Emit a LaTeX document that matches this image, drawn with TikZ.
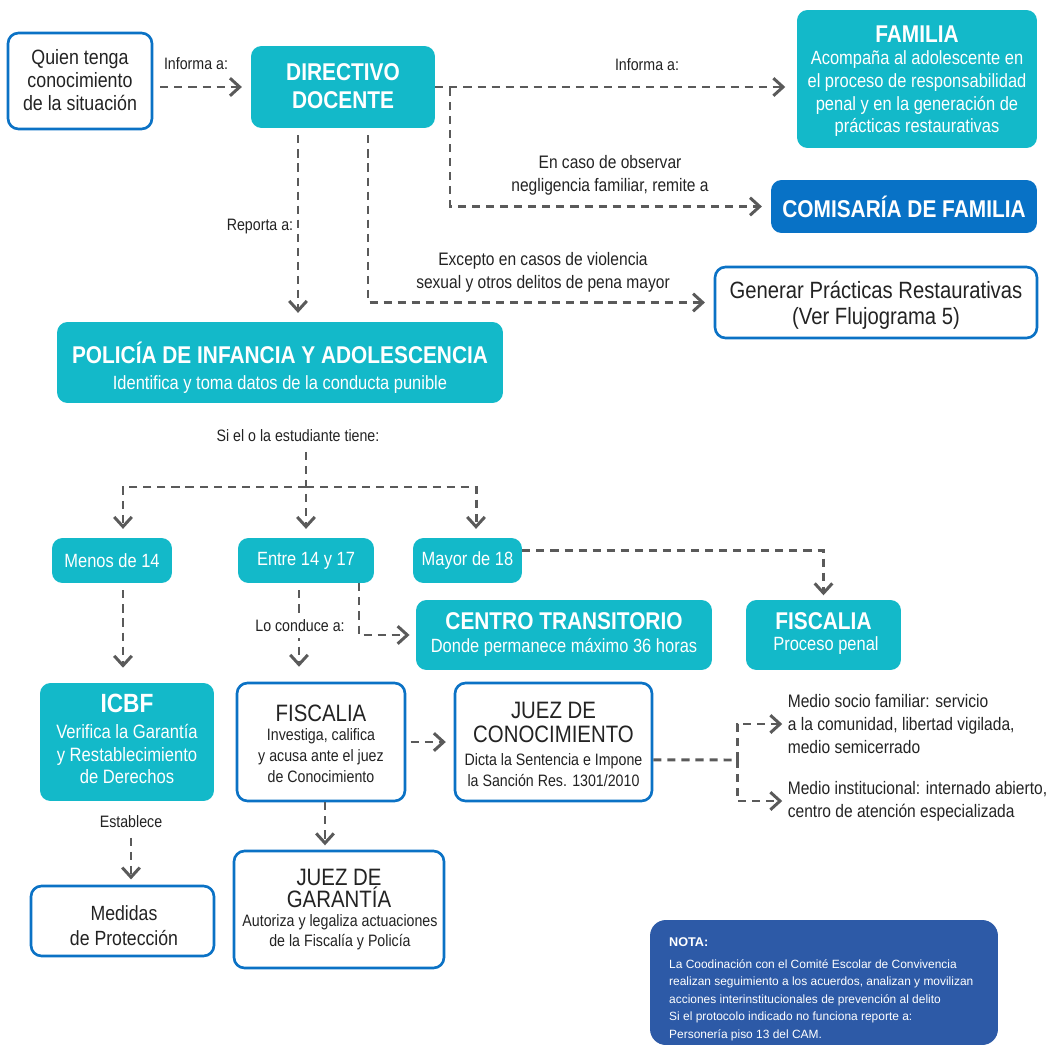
\documentclass[tikz,border=0pt]{standalone}
\usepackage{fontspec}
\setmainfont{Liberation Sans}[FakeStretch=0.86]
\newfontfamily\notafont{Liberation Sans}
\usetikzlibrary{arrows.meta, positioning, calc}
\usepackage{xcolor}

\definecolor{tealbox}{RGB}{19,185,201}
\definecolor{bluebord}{RGB}{11,114,197}
\definecolor{comblue}{RGB}{8,114,198}
\definecolor{notablue}{RGB}{45,90,167}
\definecolor{arrgray}{RGB}{90,90,90}
\definecolor{txtgray}{RGB}{35,35,35}

\begin{document}
\begin{tikzpicture}[x=0.02cm, y=-0.02cm,
    tbox/.style={rectangle, rounded corners=6pt, fill=tealbox, inner sep=0pt},
    obox/.style={draw=bluebord, line width=1.5pt, rectangle, rounded corners=6pt, fill=white, inner sep=0pt},
    ttl/.style={text=white, align=center, font=\bfseries\fontsize{13.8}{16}\selectfont},
    wsub/.style={text=white, align=center, font=\fontsize{10.9}{12.9}\selectfont},
    dtxt/.style={text=txtgray, align=center},
    lbl/.style={text=txtgray, align=center, font=\fontsize{9.4}{11}\selectfont},
    arr/.style={draw=arrgray, line width=1.7pt, dash pattern=on 4.6pt off 3.4pt, shorten <=4pt, shorten >=5pt, -{Straight Barb[length=5.5pt, width=10pt]}},
    dline/.style={draw=arrgray, line width=1.7pt, dash pattern=on 4.6pt off 3.4pt}
]
    \useasboundingbox (0,0) rectangle (1051,1047);

    % Box for Quien tenga
    \node[obox, minimum width=2.88cm, minimum height=1.92cm] (quien) at (80,81) {};
    \node[dtxt, font=\fontsize{11.8}{13.1}\selectfont] (quienT) at (80,80) {Quien tenga\\conocimiento\\de la situación};

    % Box for Directivo docente
    \node[tbox, minimum width=3.68cm, minimum height=1.64cm] (dir) at (343,87) {};
    \node[ttl] (dirT) at (343,86) {DIRECTIVO\\DOCENTE};

    % Box for Familia
    \node[tbox, minimum width=4.8cm, minimum height=2.76cm] (fam) at (917,79) {};
    \node[ttl] (famT) at (917,34) {FAMILIA};
    \node[wsub] (famS) at (917,94) {Acompaña al adolescente en\\el proceso de responsabilidad\\penal y en la generación de\\prácticas restaurativas};

    % Box for Comisaria
    \node[tbox, fill=comblue, minimum width=5.32cm, minimum height=1.06cm] (com) at (904,206.5) {};
    \node[ttl] (comT) at (904,207) {COMISARÍA DE FAMILIA};

    % Box for Practicas restaurativas
    \node[obox, minimum width=6.44cm, minimum height=1.42cm] (gen) at (876,302.5) {};
    \node[dtxt, font=\fontsize{13.4}{14.8}\selectfont] (genT) at (876,305) {Generar Prácticas Restaurativas\\(Ver Flujograma 5)};

    % Box for Policia
    \node[tbox, minimum width=8.92cm, minimum height=1.62cm] (pol) at (280,362.5) {};
    \node[ttl] (polT) at (280,353) {POLICÍA DE INFANCIA Y ADOLESCENCIA};
    \node[wsub] (polS) at (280,385) {Identifica y toma datos de la conducta punible};

    % Labels top
    \node[lbl] (infA) at (196,64) {Informa a:};
    \node[lbl] (infB) at (647,65) {Informa a:};
    \node[dtxt, font=\fontsize{10.3}{13}\selectfont] (negl) at (610,175) {En caso de observar\\negligencia familiar, remite a};
    \node[lbl] (rep) at (260,227) {Reporta a:};
    \node[dtxt, font=\fontsize{10.3}{13}\selectfont] (exc) at (543,272) {Excepto en casos de violencia\\sexual y otros delitos de pena mayor};
    \node[lbl] (siel) at (298,436) {Si el o la estudiante tiene:};

    % Age boxes
    \node[tbox, minimum width=2.4cm, minimum height=0.9cm] (menos) at (112,560.5) {};
    \node[wsub] (menosT) at (112,561) {Menos de 14};
    \node[tbox, minimum width=2.72cm, minimum height=0.9cm] (entre) at (306,560.5) {};
    \node[wsub] (entreT) at (306,561) {Entre 14 y 17};
    \node[tbox, minimum width=2.18cm, minimum height=0.9cm] (mayor) at (467.5,560.5) {};
    \node[wsub] (mayorT) at (467.5,561) {Mayor de 18};

    % Box for Centro transitorio
    \node[tbox, minimum width=5.92cm, minimum height=1.4cm] (centro) at (564,635) {};
    \node[ttl] (centroT) at (564,621) {CENTRO TRANSITORIO};
    \node[wsub] (centroS) at (564,647) {Donde permanece máximo 36 horas};

    % Box for Fiscalia (proceso penal)
    \node[tbox, minimum width=3.1cm, minimum height=1.4cm] (fisA) at (823.5,635) {};
    \node[ttl] (fisAT) at (823.5,621) {FISCALIA};
    \node[wsub] (fisAS) at (826,646) {Proceso penal};

    % Box for ICBF
    \node[tbox, minimum width=3.48cm, minimum height=2.36cm] (icbf) at (127,742) {};
    \node[ttl, font=\bfseries\fontsize{15}{17}\selectfont] (icbfT) at (127,703) {ICBF};
    \node[wsub, font=\fontsize{11}{13}\selectfont] (icbfS) at (127,754) {Verifica la Garantía\\y Restablecimiento\\de Derechos};

    % Box for Fiscalia
    \node[obox, minimum width=3.36cm, minimum height=2.36cm] (fisB) at (321,742) {};
    \node[dtxt, font=\fontsize{13.5}{15}\selectfont] (fisBT) at (321,713) {FISCALIA};
    \node[dtxt, font=\fontsize{9.4}{12}\selectfont] (fisBS) at (321,756) {Investiga, califica\\y acusa ante el juez\\de Conocimiento};

    % Box for Juez de conocimiento
    \node[obox, minimum width=3.94cm, minimum height=2.36cm] (juez) at (553.5,742) {};
    \node[dtxt, font=\fontsize{13.5}{13.7}\selectfont] (juezT) at (553.5,722) {JUEZ DE\\CONOCIMIENTO};
    \node[dtxt, font=\fontsize{9.4}{12}\selectfont] (juezS) at (553.5,770.5) {Dicta la Sentencia e Impone\\la Sanción Res. 1301/2010};

    % Sanciones
    \node[dtxt, align=left, anchor=west, inner sep=2pt, font=\fontsize{10.3}{13}\selectfont] (medSoc) at (784,724) {Medio socio familiar: servicio\\a la comunidad, libertad vigilada,\\medio semicerrado};
    \node[dtxt, align=left, anchor=west, inner sep=2pt, font=\fontsize{10.3}{13}\selectfont] (medInst) at (784,801) {Medio institucional: internado abierto,\\centro de atención especializada};

    % Box for Medidas
    \node[lbl] (est) at (131,822) {Establece};
    \node[obox, minimum width=3.66cm, minimum height=1.4cm] (med) at (122.5,921) {};
    \node[dtxt, font=\fontsize{11.7}{14.2}\selectfont] (medT) at (124,925.5) {Medidas\\de Protección};

    % Box for Juez de garantia
    \node[obox, minimum width=4.2cm, minimum height=2.34cm] (gar) at (339,909.5) {};
    \node[dtxt, font=\fontsize{13.5}{13}\selectfont] (garT) at (339,888.5) {JUEZ DE\\GARANTÍA};
    \node[dtxt, font=\fontsize{9.4}{11.4}\selectfont] (garS) at (340,932) {Autoriza y legaliza actuaciones\\de la Fiscalía y Policía};

    % Box for Nota
    \node[tbox, fill=notablue, rounded corners=9pt, minimum width=6.96cm, minimum height=2.5cm] (nota) at (824,982.5) {};
    \node[anchor=west, text=white, font=\notafont\bfseries\fontsize{7.2}{9}\selectfont] (notaT) at (663,942) {NOTA:};
    \node[anchor=west, text=white, align=left, font=\notafont\fontsize{6.8}{9.95}\selectfont] (notaS) at (663,1000) {La Coodinación con el Comité Escolar de Convivencia\\realizan seguimiento a los acuerdos, analizan y movilizan\\acciones interinstitucionales de prevención al delito\\Si el protocolo indicado no funciona reporte a:\\Personería piso 13 del CAM.};

    % Arrows
    \coordinate (cRep) at (298,0);
    \coordinate (cExc) at (368,0);
    \coordinate (brF) at (450,88);
    \coordinate (jn) at (306,487);
    \coordinate (cMen) at (123,0);
    \coordinate (cMay) at (476,0);
    \coordinate (cLo) at (299,0);
    \coordinate (cCen) at (359,0);
    \coordinate (cGar) at (325,0);
    \coordinate (jb) at (737,760);

    \draw[arr] (quien.east |- dir.west) -- (dir.west);
    \draw[arr, shorten <=0pt, shorten >=6.5pt] (dir.east) -- (dir.east -| fam.west);
    \draw[arr, shorten <=0pt] (brF) |- (com.west);
    \draw[arr] (dir.south -| cRep) -- (pol.north -| cRep);
    \draw[arr] (dir.south -| cExc) |- (gen.west);

    \draw[arr, shorten <=2pt] (siel.south -| jn) -- (entre.north -| jn);
    \draw[arr, shorten <=0pt] (jn) -| (menos.north -| cMen);
    \draw[arr, shorten <=0pt] (jn) -| (mayor.north -| cMay);

    \draw[arr, shorten >=8.5pt] (menos.south -| cMen) -- (icbf.north -| cMen);
    \draw[arr, shorten >=8.5pt] (entre.south -| cLo) -- (fisB.north -| cLo);
    \node[lbl, fill=white] (lo) at (300,626) {Lo conduce a:};
    \draw[arr, shorten <=0pt, shorten >=3.5pt] (entre.south -| cCen) |- (centro.west);
    \draw[arr, shorten <=0pt, shorten >=2.5pt] ([yshift=5.7pt]mayor.east) -| (fisA.north);

    \draw[arr, shorten <=2.5pt, shorten >=4.5pt] (fisB.east) -- (juez.west);
    \draw[arr, shorten <=0pt, shorten >=2.5pt] (fisB.south -| cGar) -- (gar.north -| cGar);
    \draw[arr, shorten <=2pt, shorten >=3pt] (est.south) -- (est.south |- med.north);
    \draw[dline] ([yshift=-10.2pt]juez.east) -- (jb);
    \draw[arr, shorten <=0pt, shorten >=1pt] (jb) |- (medSoc.west);
    \draw[arr, shorten <=0pt, shorten >=1pt] (jb) |- (medInst.west);
\end{tikzpicture}
\end{document}
